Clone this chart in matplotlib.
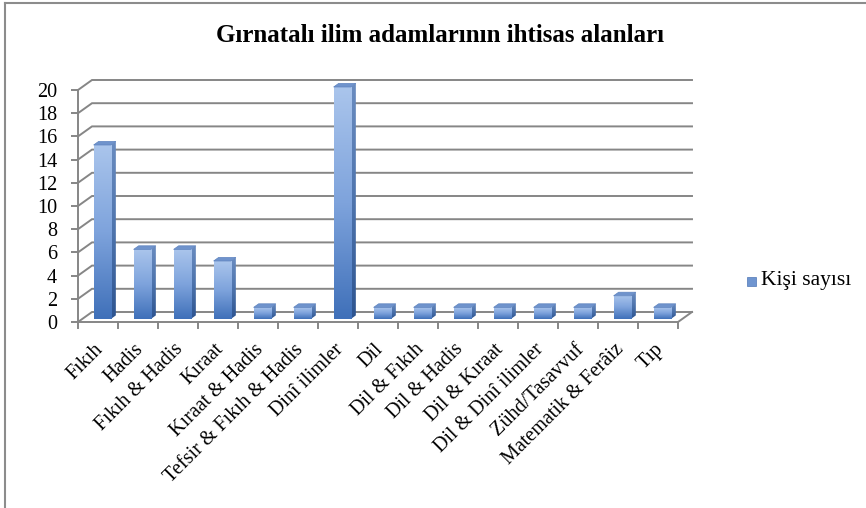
import numpy as np
import matplotlib
matplotlib.use("Agg")
import matplotlib.pyplot as plt
from matplotlib.patches import Polygon, Rectangle
from matplotlib.colors import LinearSegmentedColormap
from matplotlib.transforms import ScaledTranslation

categories = ["Fıkıh", "Hadis", "Fıkıh & Hadis", "Kıraat", "Kıraat & Hadis",
              "Tefsir & Fıkıh & Hadis", "Dinî ilimler", "Dil", "Dil & Fıkıh",
              "Dil & Hadis", "Dil & Kıraat", "Dil & Dinî ilimler",
              "Zühd/Tasavvuf", "Matematik & Ferâiz", "Tıp"]
values = [15, 6, 6, 5, 1, 1, 20, 1, 1, 1, 1, 1, 1, 2, 1]
yticks = list(range(0, 21, 2))
title = "Gırnatalı ilim adamlarının ihtisas alanları"
series_name = "Kişi sayısı"

W, H = 866, 508
fig = plt.figure(figsize=(W / 100, H / 100), dpi=100)
fig.patch.set_facecolor("white")

# pixel geometry of plot area
x0_px, y0_px = 78, 322
px_per_cat, px_per_val = 40, 11.6
xlim = (-0.5, 15.0)
ylim = (0, 21)
ax = fig.add_axes([x0_px / W, (H - y0_px) / H,
                   (xlim[1] - xlim[0]) * px_per_cat / W,
                   (ylim[1] - ylim[0]) * px_per_val / H])
ax.set_xlim(*xlim)
ax.set_ylim(*ylim)
ax.patch.set_alpha(0)

DX = 14 / px_per_cat      # depth offset in category units
DY = 10 / px_per_val      # depth offset in value units
grid_c = "#868686"
n = len(categories)
left, right = -0.5, n - 0.5

# back wall gridlines with left diagonals
for v in yticks:
    ax.plot([left, left + DX, right + DX], [v, v + DY, v + DY],
            color=grid_c, lw=1.4, clip_on=False, zorder=1, solid_joinstyle="miter")
# floor front & right edge
ax.plot([left, right, right + DX], [0, 0, DY], color=grid_c, lw=1.4,
        clip_on=False, zorder=1)

# axes spines / ticks
for s in ["top", "right"]:
    ax.spines[s].set_visible(False)
ax.spines["left"].set_bounds(0, 20)
ax.spines["left"].set_color(grid_c)
ax.spines["left"].set_linewidth(1.4)
ax.spines["bottom"].set_visible(False)
ax.set_yticks(yticks)
ax.set_yticklabels([str(t) for t in yticks], fontfamily="Liberation Serif", fontsize=14.5)
ax.tick_params(axis="y", length=5, width=1.4, color=grid_c, pad=10)
ax.set_xticks(np.arange(n))
ax.set_xticklabels(categories, rotation=45, ha="right", va="top",
                   rotation_mode="anchor", fontfamily="Liberation Serif", fontsize=14.5)
ax.tick_params(axis="x", length=0, pad=13)
shift = ScaledTranslation(-4 / 100, 0, fig.dpi_scale_trans)
for lab in ax.get_xticklabels():
    lab.set_transform(lab.get_transform() + shift)
# category boundary ticks
for b in np.arange(n + 1) - 0.5:
    ax.plot([b, b], [0, -6 / px_per_val], color=grid_c, lw=1.4, clip_on=False, zorder=1)

# bars
cmap_front = LinearSegmentedColormap.from_list("f", ["#3f70b9", "#7ea3dc", "#aac5ec"])
cmap_side = LinearSegmentedColormap.from_list("s", ["#2d5490", "#4e74ad", "#6a8cc0"])
bw = 0.43
d0 = 0.3
bd = 0.36
ddx, ddy = bd * DX, bd * DY
grad = np.linspace(0, 1, 256).reshape(-1, 1)
for i, v in enumerate(values):
    xl = i - bw / 2 + d0 * DX
    xr = i + bw / 2 + d0 * DX
    yb = d0 * DY
    yt = v + d0 * DY
    # side face
    side = Polygon([(xr, yb), (xr + ddx, yb + ddy), (xr + ddx, yt + ddy), (xr, yt)],
                   closed=True, facecolor="none", edgecolor="none")
    ax.add_patch(side)
    im = ax.imshow(grad, cmap=cmap_side, aspect="auto", origin="lower",
                   extent=(xr, xr + ddx, yb, yt + ddy), zorder=3)
    im.set_clip_path(side)
    # front face
    front = Rectangle((xl, yb), xr - xl, yt - yb, facecolor="none", edgecolor="none")
    ax.add_patch(front)
    im2 = ax.imshow(grad, cmap=cmap_front, aspect="auto", origin="lower",
                    extent=(xl, xr, yb, yt), zorder=3)
    im2.set_clip_path(front)
    # top face
    top = Polygon([(xl, yt), (xr, yt), (xr + ddx, yt + ddy), (xl + ddx, yt + ddy)],
                  closed=True, facecolor="#6f93cc", edgecolor="#5f84bf", lw=0.5, zorder=4)
    ax.add_patch(top)

ax.set_xlim(*xlim)
ax.set_ylim(*ylim)

# title
fig.text(440 / W, 1 - 36 / H, title, ha="center", va="center",
         fontfamily="Liberation Serif", fontweight="bold", fontsize=18)

# legend
fig.patches.append(Rectangle((747 / W, 1 - 286 / H), 9 / W, 9 / H,
                             transform=fig.transFigure, facecolor="#6f95d0",
                             edgecolor="#4f77b5", lw=0.5))
fig.text(761 / W, 1 - 281 / H, series_name, ha="left", va="center",
         fontfamily="Liberation Serif", fontsize=15.5)

# chart border (left and top)
fig.add_artist(plt.Line2D([5 / W, 5 / W], [0, 1 - 3 / H], transform=fig.transFigure,
                          color="#8c8c8c", lw=1.5))
fig.add_artist(plt.Line2D([5 / W, 1], [1 - 3 / H, 1 - 3 / H], transform=fig.transFigure,
                          color="#8c8c8c", lw=1.5))

fig.savefig("out.png", dpi=100)
